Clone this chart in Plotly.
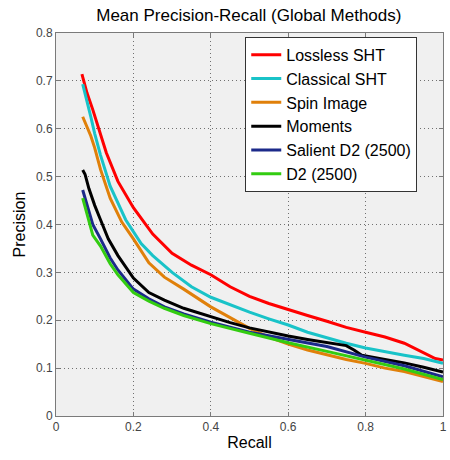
import plotly.graph_objects as go

# Mean precision-recall curves for global shape descriptors
recall_lossless = [0.067, 0.08, 0.095, 0.11, 0.13, 0.16, 0.2, 0.25, 0.3, 0.35, 0.4, 0.45, 0.5,
                   0.55, 0.6, 0.65, 0.7, 0.75, 0.8, 0.85, 0.9, 0.95, 0.98, 1.0]
prec_lossless = [0.714, 0.675, 0.64, 0.6, 0.55, 0.49, 0.435, 0.38, 0.34, 0.315, 0.295, 0.27, 0.25,
                 0.235, 0.222, 0.21, 0.198, 0.185, 0.175, 0.165, 0.152, 0.132, 0.12, 0.117]

recall_classical = [0.069, 0.08, 0.09, 0.1, 0.115, 0.14, 0.18, 0.22, 0.25, 0.3, 0.35, 0.4, 0.45,
                    0.5, 0.55, 0.6, 0.65, 0.7, 0.75, 0.8, 0.85, 0.9, 0.95, 1.0]
prec_classical = [0.693, 0.66, 0.625, 0.59, 0.545, 0.48, 0.41, 0.36, 0.335, 0.3, 0.27, 0.248, 0.232,
                  0.217, 0.203, 0.19, 0.175, 0.163, 0.152, 0.142, 0.134, 0.127, 0.12, 0.11]

recall_spin = [0.069, 0.08, 0.09, 0.1, 0.115, 0.14, 0.17, 0.2, 0.24, 0.28, 0.33, 0.4, 0.45, 0.5,
               0.55, 0.6, 0.65, 0.7, 0.75, 0.8, 0.85, 0.9, 0.95, 1.0]
prec_spin = [0.625, 0.605, 0.585, 0.56, 0.515, 0.455, 0.405, 0.37, 0.32, 0.29, 0.265, 0.228, 0.205,
             0.183, 0.165, 0.15, 0.138, 0.128, 0.118, 0.11, 0.1, 0.093, 0.083, 0.072]

recall_moments = [0.069, 0.075, 0.085, 0.1, 0.115, 0.135, 0.16, 0.2, 0.24, 0.28, 0.33, 0.4, 0.45,
                  0.5, 0.55, 0.6, 0.65, 0.7, 0.75, 0.77, 0.79, 0.85, 0.9, 0.95, 1.0]
prec_moments = [0.514, 0.505, 0.475, 0.44, 0.41, 0.37, 0.335, 0.288, 0.258, 0.242, 0.225, 0.207,
                0.195, 0.184, 0.175, 0.167, 0.16, 0.153, 0.147, 0.138, 0.127, 0.118, 0.111, 0.102, 0.092]

recall_salient = [0.069, 0.08, 0.095, 0.115, 0.14, 0.16, 0.2, 0.24, 0.28, 0.33, 0.4, 0.5, 0.6,
                  0.7, 0.8, 0.9, 1.0]
prec_salient = [0.472, 0.44, 0.4, 0.37, 0.33, 0.305, 0.265, 0.245, 0.228, 0.213, 0.196, 0.175,
                0.16, 0.145, 0.123, 0.105, 0.082]

recall_d2 = [0.069, 0.08, 0.095, 0.115, 0.14, 0.16, 0.2, 0.24, 0.28, 0.33, 0.4, 0.5, 0.6, 0.7,
             0.8, 0.9, 1.0]
prec_d2 = [0.455, 0.42, 0.378, 0.355, 0.318, 0.295, 0.258, 0.24, 0.225, 0.21, 0.193, 0.173,
           0.153, 0.135, 0.117, 0.098, 0.076]

series = [
    ("Lossless SHT", recall_lossless, prec_lossless, "#ff0000"),
    ("Classical SHT", recall_classical, prec_classical, "#19c3c8"),
    ("Spin Image", recall_spin, prec_spin, "#e0800a"),
    ("Moments", recall_moments, prec_moments, "#000000"),
    ("Salient D2 (2500)", recall_salient, prec_salient, "#1c2a8a"),
    ("D2 (2500)", recall_d2, prec_d2, "#33cc11"),
]

x_ticks = [0, 0.2, 0.4, 0.6, 0.8, 1]
x_tick_text = ["0", "0.2", "0.4", "0.6", "0.8", "1"]
y_ticks = [0, 0.1, 0.2, 0.3, 0.4, 0.5, 0.6, 0.7, 0.8]
y_tick_text = ["0", "0.1", "0.2", "0.3", "0.4", "0.5", "0.6", "0.7", "0.8"]

FONT = "Liberation Sans, Arial, sans-serif"

fig = go.Figure()
for name, xs, ys, color in series:
    fig.add_trace(go.Scatter(x=xs, y=ys, mode="lines", name=name,
                             line=dict(color=color, width=3)))

axis_common = dict(
    showgrid=True, gridcolor="#707070", griddash="1px,3px", gridwidth=1,
    showline=True, linecolor="#7a7a7a", linewidth=1, mirror="ticks",
    ticks="inside", ticklen=4, tickcolor="#7a7a7a",
    zeroline=False, ticklabeloverflow="allow",
    tickfont=dict(family=FONT, size=12, color="#444444"),
)

fig.update_layout(
    width=450, height=460,
    margin=dict(l=56, r=3, t=33, b=44),
    paper_bgcolor="#ffffff",
    plot_bgcolor="#f0f0f0",
    font=dict(family=FONT, color="#000000"),
    title=dict(text="Mean Precision-Recall (Global Methods)", x=0.553, xanchor="center",
               y=0.967, yanchor="middle", font=dict(size=17, color="#000000")),
    xaxis=dict(range=[0, 1], tickvals=x_ticks, ticktext=x_tick_text,
               title=dict(text="Recall", font=dict(size=16), standoff=3), **axis_common),
    yaxis=dict(range=[0, 0.8], tickvals=y_ticks, ticktext=y_tick_text,
               title=dict(text="Precision", font=dict(size=16), standoff=6), **axis_common),
    legend=dict(x=0.489, y=0.99, xanchor="left", yanchor="top",
                bgcolor="#ffffff", bordercolor="#333333", borderwidth=1,
                font=dict(size=16, color="#000000"), tracegroupgap=0, itemwidth=30),
    showlegend=True,
)

fig.write_html("out.html")
